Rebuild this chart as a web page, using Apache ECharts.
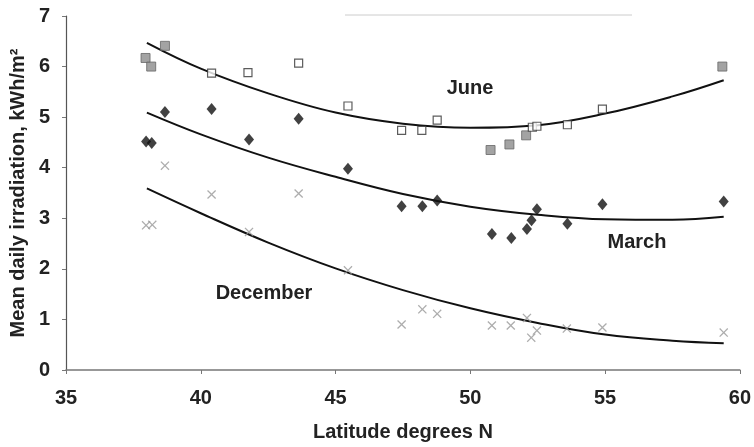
<!DOCTYPE html>
<html>
<head>
<meta charset="utf-8">
<script src="https://cdn.jsdelivr.net/npm/echarts@6/dist/echarts.min.js"></script>
<style>
  html, body { margin: 0; padding: 0; background: #fff; }
  #chart { width: 754px; height: 447px; }
</style>
</head>
<body>
<div id="chart"></div>
<script>
// measured points [latitude, kWh/m2]
const juneGrey = [[37.95, 6.17], [38.16, 6.0], [38.67, 6.41], [50.75, 4.35], [51.45, 4.46], [52.07, 4.64], [59.35, 6.0]];
const juneOpen = [[40.4, 5.87], [41.75, 5.88], [43.63, 6.07], [45.46, 5.22], [47.45, 4.74], [48.2, 4.74], [48.77, 4.94], [52.3, 4.8], [52.47, 4.82], [53.6, 4.85], [54.9, 5.16]];
const march = [[37.97, 4.52], [38.18, 4.49], [38.67, 5.1], [40.4, 5.16], [41.79, 4.56], [43.63, 4.97], [45.46, 3.98], [47.45, 3.24], [48.22, 3.24], [48.77, 3.35], [50.8, 2.69], [51.52, 2.61], [52.1, 2.79], [52.27, 2.96], [52.47, 3.18], [53.6, 2.89], [54.9, 3.28], [59.4, 3.33]];
const december = [[37.97, 2.86], [38.2, 2.87], [38.67, 4.04], [40.4, 3.47], [41.79, 2.73], [43.63, 3.49], [45.46, 1.97], [47.45, 0.9], [48.22, 1.2], [48.77, 1.11], [50.8, 0.88], [51.5, 0.88], [52.1, 1.03], [52.26, 0.64], [52.47, 0.78], [53.58, 0.82], [54.9, 0.84], [59.4, 0.74]];

// trend lines
const juneTrend = [[38, 6.47], [40, 5.96], [42.5, 5.47], [45, 5.09], [47.5, 4.87], [50, 4.79], [52.5, 4.84], [55, 5.07], [57.5, 5.41], [59.4, 5.73]];
const marchTrend = [[38, 5.09], [40, 4.66], [42.5, 4.2], [45, 3.82], [47.5, 3.48], [50, 3.23], [52.5, 3.07], [55, 2.98], [57.5, 2.97], [59.4, 3.03]];
const decemberTrend = [[38, 3.59], [40, 3.1], [42.5, 2.52], [45, 2.01], [47.5, 1.58], [50, 1.22], [52.5, 0.93], [55, 0.7], [57.5, 0.58], [59.4, 0.53]];

const xTicks = [35, 40, 45, 50, 55, 60];
const yTicks = [0, 1, 2, 3, 4, 5, 6, 7];

const crossPath = 'path://M0,1L1,0L5,4L9,0L10,1L6,5L10,9L9,10L5,6L1,10L0,9L4,5Z';
const font = 'Liberation Sans, Arial, sans-serif';

const trend = (data) => ({
  type: 'line',
  data: data,
  smooth: 0.4,
  showSymbol: false,
  lineStyle: { color: '#111', width: 2 },
  z: 1
});

const chart = echarts.init(document.getElementById('chart'));
chart.setOption({
  animation: false,
  grid: { left: 62, right: 11, top: 16, bottom: 72 },
  xAxis: {
    type: 'value',
    min: xTicks[0],
    max: xTicks[xTicks.length - 1],
    interval: 5,
    name: 'Latitude degrees N',
    nameLocation: 'middle',
    nameGap: 52,
    nameTextStyle: { fontFamily: font, fontWeight: 'bold', fontSize: 20, color: '#222' },
    axisLine: { lineStyle: { color: '#777', width: 1.5 } },
    axisTick: { show: true, length: 4, lineStyle: { color: '#777' } },
    axisLabel: { margin: 18, fontFamily: font, fontWeight: 'bold', fontSize: 20, color: '#222' },
    splitLine: { show: false }
  },
  yAxis: {
    type: 'value',
    min: yTicks[0],
    max: yTicks[yTicks.length - 1],
    interval: 1,
    name: 'Mean daily irradiation, kWh/m²',
    nameLocation: 'middle',
    nameRotate: 90,
    nameGap: 38,
    nameTextStyle: { fontFamily: font, fontWeight: 'bold', fontSize: 20, color: '#222' },
    axisLine: { show: true, lineStyle: { color: '#555', width: 1.2 } },
    axisTick: { show: true, length: 4, lineStyle: { color: '#777' } },
    axisLabel: { margin: 16, fontFamily: font, fontWeight: 'bold', fontSize: 20, color: '#222' },
    splitLine: { show: false }
  },
  graphic: [
    { type: 'line', shape: { x1: 345, y1: 15, x2: 632, y2: 15 }, style: { stroke: '#ccc', lineWidth: 1 } },
    { type: 'text', x: 470, y: 88, style: { text: 'June', font: 'bold 20px ' + font, fill: '#222', align: 'center', verticalAlign: 'middle' } },
    { type: 'text', x: 637, y: 242, style: { text: 'March', font: 'bold 20px ' + font, fill: '#222', align: 'center', verticalAlign: 'middle' } },
    { type: 'text', x: 264, y: 293, style: { text: 'December', font: 'bold 20px ' + font, fill: '#222', align: 'center', verticalAlign: 'middle' } }
  ],
  series: [
    trend(juneTrend),
    trend(marchTrend),
    trend(decemberTrend),
    {
      type: 'scatter',
      data: juneGrey,
      symbol: 'rect',
      symbolSize: 9,
      itemStyle: { color: '#8c8c8c', borderColor: '#666', borderWidth: 1 },
      z: 3
    },
    {
      type: 'scatter',
      data: juneOpen,
      symbol: 'rect',
      symbolSize: 8,
      itemStyle: { color: '#fff', borderColor: '#333', borderWidth: 1.2 },
      z: 3
    },
    {
      type: 'scatter',
      data: march,
      symbol: 'diamond',
      symbolSize: [10, 12],
      itemStyle: { color: '#111' },
      z: 3
    },
    {
      type: 'scatter',
      data: december,
      symbol: crossPath,
      symbolSize: 9,
      itemStyle: { color: '#999' },
      z: 3
    }
  ]
});
</script>
</body>
</html>
